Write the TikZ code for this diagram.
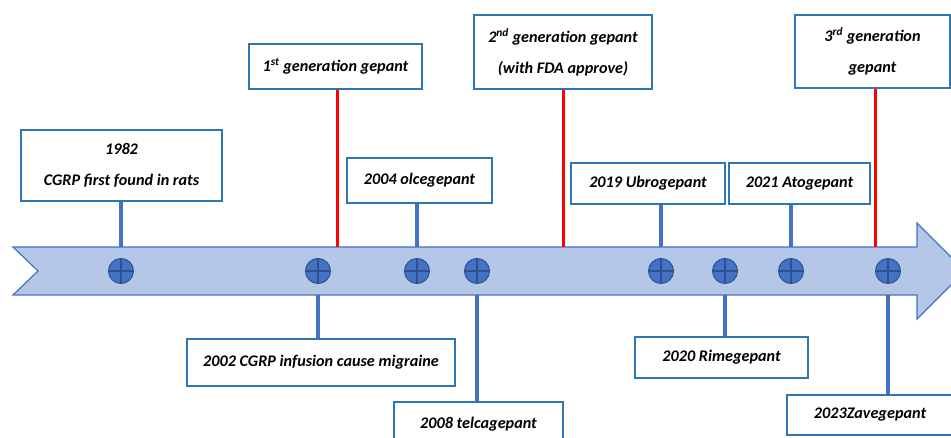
\documentclass[tikz,border=0pt]{standalone}
\usepackage{fontspec}
\setmainfont{Carlito}
\definecolor{bandfill}{HTML}{B4C7E7}
\definecolor{bandline}{HTML}{4472C4}
\definecolor{dotfill}{HTML}{4472C4}
\definecolor{dotline}{HTML}{2F528F}
\definecolor{boxline}{HTML}{2E75B6}
\definecolor{stemcol}{HTML}{4472C4}
\definecolor{redline}{HTML}{FF0000}
\begin{document}
\begin{tikzpicture}[x=1pt,y=-1pt,
  evbox/.style={draw=boxline, line width=2.8pt, fill=white, inner sep=0pt, align=center,
    font=\fontsize{16.2}{31}\selectfont\bfseries\itshape},
  dot/.style={circle, draw=dotline, fill=dotfill, line width=1pt, minimum size=25pt, inner sep=0pt},
  stemline/.style={draw=stemcol, line width=4pt},
  genline/.style={draw=redline, line width=3pt}]
\useasboundingbox (0,0) rectangle (951,438);
% band arrow
\draw[fill=bandfill, draw=bandline, line width=1.2pt]
  (13,247) -- (917,247) -- (917,223) -- (965,271) -- (917,319) -- (917,295) -- (13,295) -- (38,271) -- cycle;
\coordinate (top) at (0,247);
\coordinate (bot) at (0,295);
% dots
\foreach \n/\x in {c1/121,c2/318,c3/417,c4/477,c5/661,c6/725,c7/791,c8/888}{
  \node[dot] (\n) at (\x,271) {};
  \draw[dotline, line width=1.2pt] (\n.north) -- (\n.south) (\n.west) -- (\n.east);
}
% boxes above
\node[evbox, minimum width=201pt, minimum height=71pt] (b1982) at (121.5,165.5) {1982\\CGRP first found in rats};
\node[evbox, minimum width=173pt, minimum height=45pt] (bgen1) at (335.5,66.5) {1\textsuperscript{st} generation gepant};
\node[evbox, minimum width=145pt, minimum height=45pt] (b2004) at (419.5,180.5) {2004 olcegepant};
\node[evbox, minimum width=178pt, minimum height=74pt] (bgen2) at (563,52) {2\textsuperscript{nd} generation gepant\\(with FDA approve)};
\node[evbox, minimum width=154pt, minimum height=41pt] (b2019) at (648,183.5) {2019 Ubrogepant};
\node[evbox, minimum width=141pt, minimum height=41pt] (b2021) at (799.5,183.5) {2021 Atogepant};
\node[evbox, minimum width=155pt, minimum height=73pt] (bgen3) at (872.5,51.5) {3\textsuperscript{rd} generation\\gepant};
% boxes below
\node[evbox, minimum width=268pt, minimum height=47pt] (b2002) at (321,362.5) {2002 CGRP infusion cause migraine};
\node[evbox, minimum width=169pt, minimum height=44pt] (b2008) at (478.5,424) {2008 telcagepant};
\node[evbox, minimum width=173pt, minimum height=41pt] (b2020) at (721.5,357.5) {2020 Rimegepant};
\node[evbox, minimum width=166pt, minimum height=40pt] (b2023) at (870,415) {2023Zavegepant};
% stems above
\draw[stemline] (c1 |- b1982.south) -- (c1 |- top);
\draw[stemline] (c3 |- b2004.south) -- (c3 |- top);
\draw[stemline] (c5 |- b2019.south) -- (c5 |- top);
\draw[stemline] (c7 |- b2021.south) -- (c7 |- top);
% stems below
\draw[stemline] (c2 |- bot) -- (c2 |- b2002.north);
\draw[stemline] (c4 |- bot) -- (c4 |- b2008.north);
\draw[stemline] (c6 |- bot) -- (c6 |- b2020.north);
\draw[stemline] (c8 |- bot) -- (c8 |- b2023.north);
% generation lines
\draw[genline] ([xshift=1.5pt]bgen1.south) -- ([xshift=1.5pt]bgen1.south |- top);
\draw[genline] (bgen2.south) -- (bgen2.south |- top);
\draw[genline] ([xshift=2.5pt]bgen3.south) -- ([xshift=2.5pt]bgen3.south |- top);
\end{tikzpicture}
\end{document}
